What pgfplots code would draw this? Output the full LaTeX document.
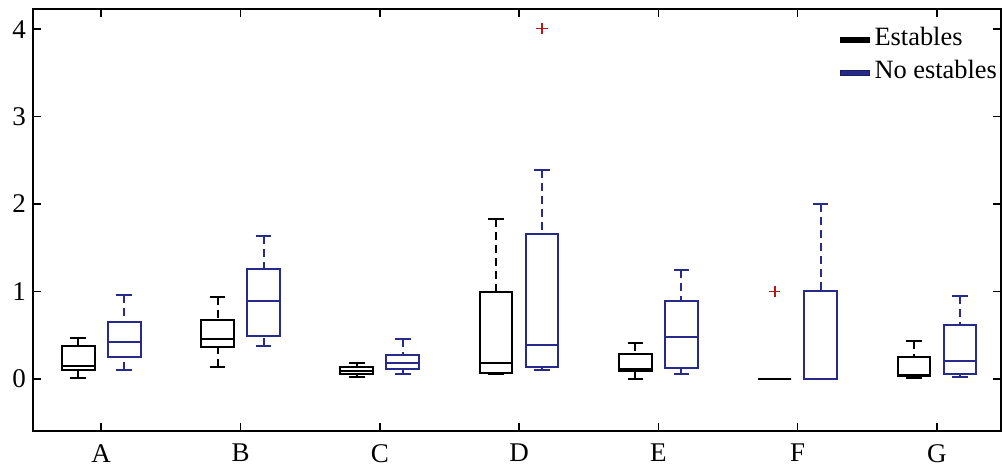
\documentclass[border=0pt]{standalone}
\usepackage{pgfplots}
\pgfplotsset{compat=1.18}
\usepgfplotslibrary{statistics}
\usepackage{fontspec}
\setmainfont{Liberation Serif}

\definecolor{nsblue}{RGB}{38,42,138}
\definecolor{outred}{RGB}{180,25,25}

\pgfplotsset{
  estbox/.style={black, line width=1pt, mark=+, mark size=2.8pt,
    mark options={outred, solid, line width=0.9pt}, forget plot},
  nestbox/.style={nsblue, line width=1pt, mark=+, mark size=2.8pt,
    mark options={outred, solid, line width=0.9pt}, forget plot},
  % dashed whisker line, solid cap
  boxplot/draw/lower whisker/.code={%
    \draw[dash pattern=on 4pt off 2.5pt]
      (boxplot box cs:\pgfplotsboxplotvalue{lower whisker},0.5) --
      (boxplot box cs:\pgfplotsboxplotvalue{lower quartile},0.5);
    \draw[solid]
      (boxplot whisker cs:\pgfplotsboxplotvalue{lower whisker},0) --
      (boxplot whisker cs:\pgfplotsboxplotvalue{lower whisker},1);
  },
  boxplot/draw/upper whisker/.code={%
    \draw[dash pattern=on 4pt off 2.5pt]
      (boxplot box cs:\pgfplotsboxplotvalue{upper whisker},0.5) --
      (boxplot box cs:\pgfplotsboxplotvalue{upper quartile},0.5);
    \draw[solid]
      (boxplot whisker cs:\pgfplotsboxplotvalue{upper whisker},0) --
      (boxplot whisker cs:\pgfplotsboxplotvalue{upper whisker},1);
  },
}

\begin{document}
\begin{tikzpicture}
\begin{axis}[
    name=ax,
    scale only axis,
    width=484pt, height=211pt,
    xmin=0.51, xmax=7.46,
    ymin=-0.6, ymax=4.23,
    xtick={1,2,3,4,5,6,7},
    xticklabels={A,B,C,D,E,F,G},
    ytick={0,1,2,3,4},
    tick align=inside,
    tick pos=both,
    xticklabel pos=lower, yticklabel pos=left,
    major tick length=4pt,
    every tick/.style={black, line width=0.8pt},
    axis line style={line width=1pt},
    tick label style={font=\fontsize{13.5}{16}\selectfont},
    /pgf/number format/assume math mode=true,
    xticklabel style={yshift=-3pt},
    boxplot/draw direction=y,
    boxplot/box extend=0.235,
    boxplot/whisker extend=0.112,
    legend image code/.code={\draw[#1] (0pt,-1.3pt) rectangle (14.5pt,1.3pt); \path (15.5pt,0pt);},
    legend style={at={(0.833,0.965)}, anchor=north west, draw=none, fill=none,
        inner sep=0pt, font=\fontsize{13.2}{16}\selectfont,
        nodes={inner sep=1.5pt, text height=9.2pt, text depth=3pt},
        row sep=1.3pt},
    legend cell align=left,
]
% A
\addplot[estbox, boxplot prepared={draw position=0.835,
    lower whisker=0.01, lower quartile=0.095, median=0.15,
    upper quartile=0.37, upper whisker=0.465}] coordinates {};
\addplot[nestbox, boxplot prepared={draw position=1.165,
    lower whisker=0.10, lower quartile=0.245, median=0.42,
    upper quartile=0.645, upper whisker=0.96}] coordinates {};
% B
\addplot[estbox, boxplot prepared={draw position=1.835,
    lower whisker=0.13, lower quartile=0.366, median=0.46,
    upper quartile=0.67, upper whisker=0.94}] coordinates {};
\addplot[nestbox, boxplot prepared={draw position=2.165,
    lower whisker=0.38, lower quartile=0.49, median=0.885,
    upper quartile=1.26, upper whisker=1.63}] coordinates {};
% C
\addplot[estbox, boxplot prepared={draw position=2.835,
    lower whisker=0.02, lower quartile=0.05, median=0.09,
    upper quartile=0.137, upper whisker=0.18}] coordinates {};
\addplot[nestbox, boxplot prepared={draw position=3.165,
    lower whisker=0.06, lower quartile=0.115, median=0.183,
    upper quartile=0.275, upper whisker=0.455}] coordinates {};
% D
\addplot[estbox, boxplot prepared={draw position=3.835,
    lower whisker=0.05, lower quartile=0.07, median=0.175,
    upper quartile=0.99, upper whisker=1.83}] coordinates {};
\addplot[nestbox, boxplot prepared={draw position=4.165,
    lower whisker=0.10, lower quartile=0.13, median=0.39,
    upper quartile=1.66, upper whisker=2.39}] coordinates {(0,4.01)};
% E
\addplot[estbox, boxplot prepared={draw position=4.835,
    lower whisker=0.0, lower quartile=0.09, median=0.11,
    upper quartile=0.286, upper whisker=0.41}] coordinates {};
\addplot[nestbox, boxplot prepared={draw position=5.165,
    lower whisker=0.054, lower quartile=0.12, median=0.477,
    upper quartile=0.885, upper whisker=1.247}] coordinates {};
% F
\addplot[estbox, boxplot prepared={draw position=5.835,
    lower whisker=0, lower quartile=0, median=0,
    upper quartile=0, upper whisker=0}] coordinates {(0,1.0)};
\addplot[nestbox, boxplot prepared={draw position=6.165,
    lower whisker=0, lower quartile=0, median=0,
    upper quartile=1.0, upper whisker=2.0}] coordinates {};
% G
\addplot[estbox, boxplot prepared={draw position=6.835,
    lower whisker=0.008, lower quartile=0.027, median=0.045,
    upper quartile=0.255, upper whisker=0.43}] coordinates {};
\addplot[nestbox, boxplot prepared={draw position=7.165,
    lower whisker=0.015, lower quartile=0.054, median=0.2,
    upper quartile=0.61, upper whisker=0.95}] coordinates {};

\addlegendimage{fill=black, draw=black, line width=0.4pt}
\addlegendentry{Estables}
\addlegendimage{fill=nsblue, draw=nsblue!70!black, line width=0.4pt}
\addlegendentry{No estables}
\end{axis}
\path (ax.north east) ++(1pt,4.6pt);
\path (ax.south west) ++(-16.5pt,0pt);
\end{tikzpicture}
\end{document}
